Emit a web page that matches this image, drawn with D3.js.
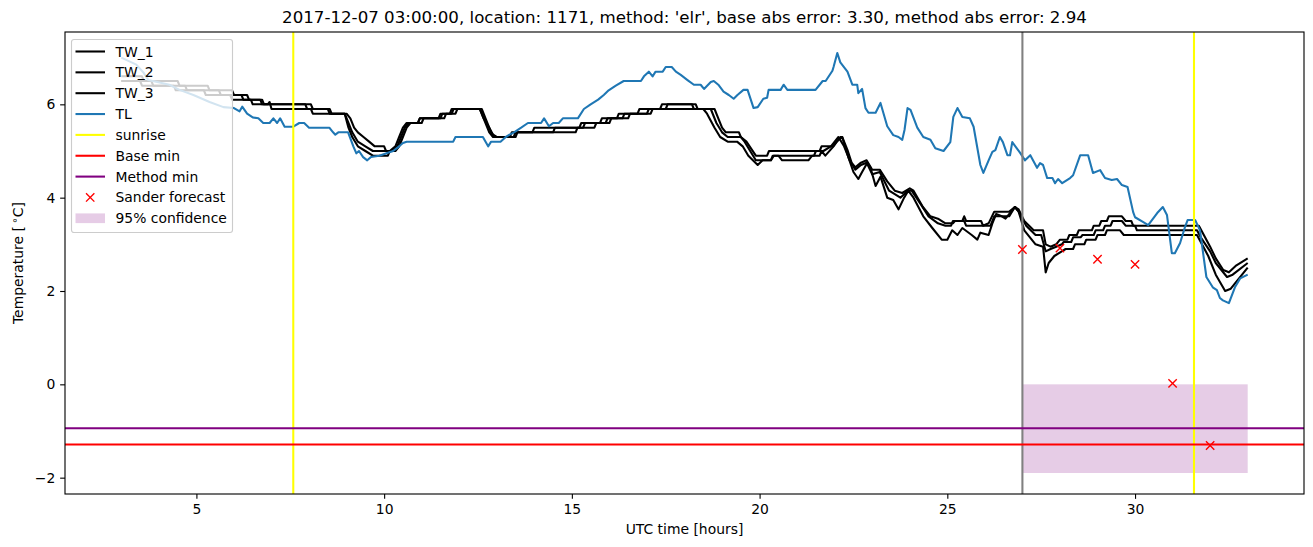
<!DOCTYPE html>
<html>
<head>
<meta charset="utf-8">
<script src="https://cdn.jsdelivr.net/npm/d3@7"></script>
<style>
  body { margin: 0; background: #fff; }
  svg { font-family: "DejaVu Sans", sans-serif; }
</style>
</head>
<body>
<div id="chart"></div>
<script>
// series as [hour, value] pairs
const TW_1 = [[3.0,6.6],[3.55,6.6],[3.6,6.5],[4.5,6.5],[4.55,6.4],[5.3,6.4],[5.35,6.3],[5.95,6.3],[6.0,6.2],[6.35,6.2],[6.4,6.1],[6.75,6.1],[6.8,6.0],[8.05,6.0],[8.1,5.9],[8.55,5.9],[8.6,5.8],[9.0,5.8],[9.1,5.7],[9.2,5.5],[9.3,5.4],[9.45,5.3],[9.6,5.2],[9.75,5.1],[10.0,5.1],[10.05,5.0],[10.3,5.0],[10.4,5.1],[10.5,5.3],[10.6,5.5],[10.7,5.6],[11.0,5.6],[11.05,5.7],[11.6,5.7],[11.65,5.8],[11.9,5.8],[11.95,5.9],[12.6,5.9],[12.7,5.7],[12.85,5.4],[12.95,5.3],[13.35,5.3],[13.4,5.4],[13.95,5.4],[14.0,5.5],[15.2,5.5],[15.25,5.6],[15.75,5.6],[15.8,5.7],[16.2,5.7],[16.25,5.8],[16.75,5.8],[16.8,5.9],[17.35,5.9],[17.4,6.0],[18.3,6.0],[18.35,5.9],[18.8,5.9],[18.9,5.7],[19.0,5.5],[19.1,5.4],[19.45,5.4],[19.5,5.3],[19.65,5.2],[19.9,4.9],[20.2,4.9],[20.25,5.0],[21.6,5.0],[21.65,5.1],[21.95,5.1],[22.05,5.2],[22.2,5.3],[22.35,5.0],[22.45,4.75],[22.55,4.65],[22.7,4.75],[22.85,4.8],[23.0,4.6],[23.2,4.6],[23.4,4.35],[23.6,4.15],[23.8,4.1],[24.0,4.2],[24.1,4.15],[24.35,3.8],[24.55,3.6],[24.75,3.55],[24.95,3.45],[25.15,3.45],[25.2,3.5],[25.4,3.5],[25.45,3.6],[25.5,3.5],[25.9,3.5],[25.95,3.4],[26.1,3.45],[26.25,3.7],[26.65,3.7],[26.8,3.8],[26.9,3.75],[27.05,3.5],[27.3,3.3],[27.55,3.3],[27.62,3.0],[27.75,2.95],[27.9,3.0],[28.0,3.1],[28.2,3.1],[28.25,3.2],[28.45,3.2],[28.5,3.3],[28.85,3.3],[28.9,3.4],[29.05,3.4],[29.1,3.5],[29.25,3.5],[29.3,3.6],[29.65,3.6],[29.75,3.5],[29.9,3.5],[29.95,3.4],[31.7,3.4],[31.8,3.25],[32.0,2.95],[32.15,2.7],[32.35,2.45],[32.5,2.4],[32.7,2.55],[33.0,2.7]];

const TW_2 = [[3.0,6.5],[3.8,6.5],[3.85,6.4],[4.7,6.4],[4.75,6.3],[5.6,6.3],[5.65,6.2],[6.2,6.2],[6.25,6.1],[6.7,6.1],[6.75,6.0],[7.9,6.0],[7.95,5.9],[8.5,5.9],[8.55,5.8],[8.95,5.8],[9.05,5.6],[9.15,5.4],[9.3,5.2],[9.5,5.1],[9.7,5.0],[10.2,5.0],[10.35,5.1],[10.45,5.3],[10.55,5.5],[10.65,5.6],[10.9,5.6],[10.95,5.7],[11.45,5.7],[11.5,5.8],[11.8,5.8],[11.85,5.9],[12.55,5.9],[12.7,5.6],[12.8,5.4],[12.9,5.3],[13.45,5.3],[13.5,5.4],[14.5,5.4],[14.55,5.5],[15.3,5.5],[15.35,5.6],[15.9,5.6],[15.95,5.7],[16.35,5.7],[16.4,5.8],[17.0,5.8],[17.05,5.9],[17.5,5.9],[17.55,6.0],[18.2,6.0],[18.25,5.9],[18.7,5.9],[18.85,5.6],[19.0,5.4],[19.15,5.3],[19.5,5.3],[19.6,5.2],[19.75,5.0],[19.9,4.8],[20.3,4.8],[20.35,4.9],[21.45,4.9],[21.5,5.0],[21.7,5.0],[21.9,5.1],[22.1,5.3],[22.25,5.1],[22.4,4.8],[22.55,4.6],[22.7,4.7],[22.85,4.75],[23.0,4.5],[23.2,4.55],[23.45,4.15],[23.75,4.0],[23.95,4.15],[24.05,4.15],[24.3,3.85],[24.5,3.6],[24.75,3.45],[24.95,3.4],[25.1,3.4],[25.15,3.5],[25.45,3.5],[25.5,3.4],[26.15,3.4],[26.25,3.6],[26.65,3.6],[26.8,3.8],[26.9,3.7],[27.1,3.4],[27.35,3.2],[27.5,3.2],[27.62,2.85],[27.75,2.9],[27.9,2.95],[28.05,3.0],[28.1,3.05],[28.3,3.05],[28.35,3.15],[28.55,3.15],[28.6,3.2],[28.9,3.2],[28.95,3.3],[29.15,3.3],[29.2,3.4],[29.35,3.4],[29.4,3.5],[29.65,3.5],[29.75,3.4],[30.0,3.4],[30.05,3.3],[31.65,3.3],[31.75,3.15],[32.0,2.85],[32.15,2.6],[32.45,2.3],[32.6,2.35],[33.0,2.6]];

const TW_3 = [[3.0,6.5],[3.5,6.5],[3.55,6.4],[4.4,6.4],[4.45,6.3],[5.2,6.3],[5.25,6.2],[5.9,6.2],[5.95,6.1],[6.45,6.1],[6.5,6.0],[6.9,6.0],[6.95,6.05],[7.0,5.9],[8.05,5.9],[8.1,5.8],[8.95,5.8],[9.05,5.5],[9.15,5.3],[9.3,5.1],[9.5,5.0],[9.7,4.9],[10.1,4.9],[10.15,5.0],[10.3,5.1],[10.4,5.3],[10.5,5.5],[10.6,5.6],[10.9,5.6],[10.95,5.7],[11.5,5.7],[11.55,5.8],[11.75,5.8],[11.8,5.9],[12.55,5.9],[12.65,5.7],[12.8,5.5],[12.9,5.35],[13.0,5.3],[13.5,5.3],[13.55,5.4],[15.1,5.4],[15.15,5.5],[15.6,5.5],[15.65,5.6],[16.0,5.6],[16.05,5.7],[16.5,5.7],[16.55,5.8],[17.1,5.8],[17.15,5.9],[18.5,5.9],[18.6,5.8],[18.8,5.5],[18.95,5.3],[19.15,5.2],[19.4,5.2],[19.55,5.1],[19.7,4.9],[19.95,4.7],[20.08,4.8],[20.3,4.8],[20.38,4.9],[20.5,4.9],[20.6,4.8],[21.3,4.8],[21.4,4.9],[21.6,4.9],[21.65,5.0],[21.75,4.9],[21.97,5.1],[22.15,5.3],[22.2,5.3],[22.37,4.85],[22.5,4.55],[22.63,4.4],[22.73,4.55],[22.87,4.75],[22.95,4.65],[23.09,4.25],[23.22,4.45],[23.4,4.0],[23.56,3.95],[23.7,3.75],[23.85,4.0],[23.96,4.15],[24.1,4.0],[24.36,3.6],[24.6,3.35],[24.85,3.1],[25.0,3.1],[25.13,3.3],[25.27,3.2],[25.4,3.35],[25.65,3.2],[25.8,3.1],[25.88,3.25],[26.1,3.2],[26.2,3.45],[26.3,3.65],[26.45,3.6],[26.55,3.55],[26.7,3.7],[26.8,3.8],[26.9,3.7],[27.05,3.3],[27.35,3.0],[27.55,2.95],[27.62,2.4],[27.7,2.6],[27.85,2.75],[28.05,2.85],[28.15,2.9],[28.35,2.9],[28.4,3.0],[28.65,3.0],[28.7,3.1],[28.95,3.1],[29.0,3.2],[29.2,3.2],[29.25,3.3],[29.6,3.3],[29.7,3.2],[31.65,3.2],[31.75,3.05],[31.95,2.75],[32.15,2.35],[32.4,2.0],[32.55,2.05],[33.0,2.5]];

const TL = [[3.0,7.0],[3.4,6.85],[3.6,6.67],[3.72,6.52],[4.28,6.42],[4.55,6.31],[4.92,6.2],[5.35,6.05],[5.72,5.94],[6.0,5.92],[6.15,5.85],[6.22,5.95],[6.35,5.8],[6.5,5.72],[6.65,5.7],[6.78,5.6],[6.95,5.6],[7.05,5.7],[7.15,5.6],[7.23,5.7],[7.35,5.52],[7.58,5.52],[7.74,5.6],[7.87,5.6],[8.0,5.5],[8.54,5.5],[8.64,5.4],[8.7,5.35],[8.78,5.4],[9.04,5.4],[9.18,5.1],[9.26,4.95],[9.33,5.0],[9.44,4.87],[9.55,4.8],[9.65,4.87],[9.87,4.9],[10.24,5.0],[10.4,5.1],[10.5,5.17],[10.6,5.2],[11.84,5.2],[11.9,5.3],[12.63,5.3],[12.77,5.1],[12.85,5.2],[13.1,5.2],[13.24,5.3],[13.34,5.35],[13.46,5.4],[13.65,5.5],[13.83,5.6],[14.18,5.6],[14.26,5.7],[14.39,5.53],[14.5,5.6],[14.65,5.6],[14.76,5.7],[15.16,5.7],[15.32,5.9],[15.5,6.0],[15.7,6.1],[15.85,6.2],[15.98,6.3],[16.17,6.4],[16.38,6.5],[16.84,6.5],[16.92,6.6],[17.05,6.7],[17.15,6.6],[17.23,6.7],[17.42,6.7],[17.5,6.8],[17.66,6.8],[17.77,6.7],[17.9,6.63],[18.08,6.52],[18.25,6.42],[18.43,6.42],[18.52,6.33],[18.7,6.48],[18.78,6.5],[18.9,6.42],[19.04,6.27],[19.18,6.2],[19.31,6.12],[19.41,6.2],[19.57,6.31],[19.68,6.31],[19.84,5.92],[19.95,5.94],[20.1,6.12],[20.2,6.14],[20.24,6.31],[20.56,6.31],[20.64,6.42],[20.74,6.31],[21.49,6.31],[21.68,6.5],[21.76,6.5],[21.94,6.72],[21.97,6.8],[22.07,7.1],[22.15,6.9],[22.34,6.7],[22.47,6.42],[22.6,6.42],[22.63,6.24],[22.73,6.33],[22.82,5.92],[22.9,5.82],[23.09,5.82],[23.22,6.03],[23.4,5.53],[23.56,5.34],[23.7,5.3],[23.8,5.24],[23.86,5.45],[23.94,5.92],[24.02,5.88],[24.2,5.5],[24.36,5.3],[24.55,5.24],[24.68,5.06],[24.9,5.0],[25.08,5.19],[25.16,5.73],[25.27,5.92],[25.4,5.73],[25.6,5.7],[25.7,5.52],[25.88,4.7],[25.96,4.53],[26.1,4.8],[26.2,4.98],[26.28,5.02],[26.4,5.3],[26.48,5.19],[26.6,4.91],[26.67,4.91],[26.73,5.19],[26.94,4.96],[27.07,4.8],[27.21,4.91],[27.39,4.64],[27.47,4.74],[27.55,4.7],[27.66,4.42],[27.8,4.42],[27.87,4.31],[27.95,4.4],[28.06,4.31],[28.27,4.42],[28.35,4.48],[28.54,4.91],[28.75,4.91],[28.88,4.53],[29.07,4.59],[29.2,4.42],[29.38,4.38],[29.52,4.4],[29.65,4.27],[29.8,4.23],[29.95,3.69],[30.0,3.58],[30.21,3.48],[30.35,3.41],[30.59,3.67],[30.74,3.8],[30.85,3.63],[30.98,2.81],[31.06,2.81],[31.2,3.03],[31.33,3.37],[31.4,3.52],[31.6,3.52],[31.73,3.3],[31.9,2.3],[32.07,2.08],[32.18,2.02],[32.26,1.85],[32.34,1.8],[32.5,1.74],[32.66,2.08],[32.8,2.27],[33.0,2.35]];

const sunriseHours = [7.58, 31.57];
const forecastStart = 27.0;
const baseMin = -1.29;
const methodMin = -0.94;
const sanderHours = [27, 28, 29, 30, 31, 32];
const sanderValues = [2.89, 2.92, 2.68, 2.57, 0.02, -1.31];
const confHours = [27, 33];
const confBand = [-1.9, 0.0];
const xTicks = [5, 10, 15, 20, 25, 30];
const yTicks = [-2, 0, 2, 4, 6];

const W = 1313, H = 547;
const margin = { top: 32, right: 9, bottom: 53, left: 65 };
const width = W - margin.left - margin.right;
const height = H - margin.top - margin.bottom;
const fs = 13.9;

const svg = d3.select('#chart').append('svg')
  .attr('width', W).attr('height', H);

const x = d3.scaleLinear().domain([1.5, 34.5]).range([0, width]);
const y = d3.scaleLinear().domain([-2.35, 7.55]).range([height, 0]);

const g = svg.append('g')
  .attr('transform', 'translate(' + margin.left + ',' + margin.top + ')');

g.append('defs').append('clipPath').attr('id', 'clip')
  .append('rect').attr('width', width).attr('height', height);
const plot = g.append('g').attr('clip-path', 'url(#clip)');

// confidence band sits under the lines
plot.append('rect')
  .attr('x', x(confHours[0]))
  .attr('width', x(confHours[1]) - x(confHours[0]))
  .attr('y', y(confBand[1]))
  .attr('height', y(confBand[0]) - y(confBand[1]))
  .attr('fill', 'purple').attr('fill-opacity', 0.2);

const line = d3.line().x(d => x(d[0])).y(d => y(d[1]));

[TW_1, TW_2, TW_3].forEach(s => {
  plot.append('path').datum(s).attr('d', line)
    .attr('fill', 'none').attr('stroke', '#000').attr('stroke-width', 2.08)
    .attr('stroke-linejoin', 'round');
});
plot.append('path').datum(TL).attr('d', line)
  .attr('fill', 'none').attr('stroke', '#1f77b4').attr('stroke-width', 2.08)
  .attr('stroke-linejoin', 'round');

// vertical markers
plot.selectAll('.sunrise').data(sunriseHours).enter().append('line')
  .attr('x1', d => x(d)).attr('x2', d => x(d))
  .attr('y1', 0).attr('y2', height)
  .attr('stroke', 'yellow').attr('stroke-width', 2.08);
plot.append('line')
  .attr('x1', x(forecastStart)).attr('x2', x(forecastStart))
  .attr('y1', 0).attr('y2', height)
  .attr('stroke', 'gray').attr('stroke-width', 2.08);

plot.append('line').attr('x1', 0).attr('x2', width)
  .attr('y1', y(baseMin)).attr('y2', y(baseMin))
  .attr('stroke', 'red').attr('stroke-width', 2.08);
plot.append('line').attr('x1', 0).attr('x2', width)
  .attr('y1', y(methodMin)).attr('y2', y(methodMin))
  .attr('stroke', 'purple').attr('stroke-width', 2.08);

const cross = (sel, s) => sel
  .attr('d', 'M' + -s + ',' + -s + 'L' + s + ',' + s + 'M' + -s + ',' + s + 'L' + s + ',' + -s)
  .attr('stroke', 'red').attr('stroke-width', 1.39).attr('fill', 'none');

plot.selectAll('.sander').data(sanderHours).enter().append('path')
  .attr('transform', (d, i) => 'translate(' + x(d) + ',' + y(sanderValues[i]) + ')')
  .call(cross, 4.17);

// axes
const xAxis = g.append('g').attr('transform', 'translate(0,' + height + ')')
  .call(d3.axisBottom(x).tickValues(xTicks).tickSize(4.86).tickPadding(4.86).tickFormat(d3.format('d')));
const yAxis = g.append('g')
  .call(d3.axisLeft(y).tickValues(yTicks).tickSize(4.86).tickPadding(4.86)
    .tickFormat(d => (d < 0 ? '\u2212' + Math.abs(d) : d)));
[xAxis, yAxis].forEach(a => {
  a.select('.domain').remove();
  a.selectAll('line').attr('stroke', '#000').attr('stroke-width', 1.11);
  a.selectAll('text').attr('font-size', fs).attr('fill', '#000')
    .attr('font-family', '"DejaVu Sans", sans-serif');
});

g.append('rect').attr('width', width).attr('height', height)
  .attr('fill', 'none').attr('stroke', '#000').attr('stroke-width', 1.11);

// labels
svg.append('text')
  .attr('x', margin.left + width / 2).attr('y', 23)
  .attr('text-anchor', 'middle').attr('font-size', 16.67)
  .text("2017-12-07 03:00:00, location: 1171, method: 'elr', base abs error: 3.30, method abs error: 2.94");

svg.append('text')
  .attr('x', margin.left + width / 2).attr('y', 534)
  .attr('text-anchor', 'middle').attr('font-size', fs)
  .text('UTC time [hours]');

const yl = svg.append('text')
  .attr('transform', 'translate(23,' + (margin.top + height / 2) + ') rotate(-90)')
  .attr('text-anchor', 'middle').attr('font-size', fs);
yl.append('tspan').text('Temperature [\u2009');
yl.append('tspan').attr('dy', -5).attr('font-size', 10).text('\u2218');
yl.append('tspan').attr('dy', 5).text('C]');

// legend
const legendItems = [
  { label: 'TW_1', type: 'line', color: '#000' },
  { label: 'TW_2', type: 'line', color: '#000' },
  { label: 'TW_3', type: 'line', color: '#000' },
  { label: 'TL', type: 'line', color: '#1f77b4' },
  { label: 'sunrise', type: 'line', color: 'yellow' },
  { label: 'Base min', type: 'line', color: 'red' },
  { label: 'Method min', type: 'line', color: 'purple' },
  { label: 'Sander forecast', type: 'cross', color: 'red' },
  { label: '95% confidence', type: 'patch', color: 'purple' }
];
const legend = svg.append('g').attr('transform', 'translate(71.5,39.5)');
legend.append('rect').attr('width', 161).attr('height', 193).attr('rx', 2.5)
  .attr('fill', '#fff').attr('fill-opacity', 0.8)
  .attr('stroke', '#cccccc').attr('stroke-width', 1.11);
legendItems.forEach((d, i) => {
  const row = legend.append('g').attr('transform', 'translate(0,' + (12 + i * 20.85) + ')');
  if (d.type === 'line') {
    row.append('line').attr('x1', 4).attr('x2', 33.5)
      .attr('stroke', d.color).attr('stroke-width', 2.08);
  } else if (d.type === 'cross') {
    row.append('path').attr('transform', 'translate(18.7,0)').call(cross, 4.17);
  } else {
    row.append('rect').attr('x', 4).attr('y', -4.9).attr('width', 29.5).attr('height', 9.7)
      .attr('fill', d.color).attr('fill-opacity', 0.2);
  }
  row.append('text').attr('x', 44).attr('y', 5).attr('font-size', fs).text(d.label);
});
</script>
</body>
</html>
